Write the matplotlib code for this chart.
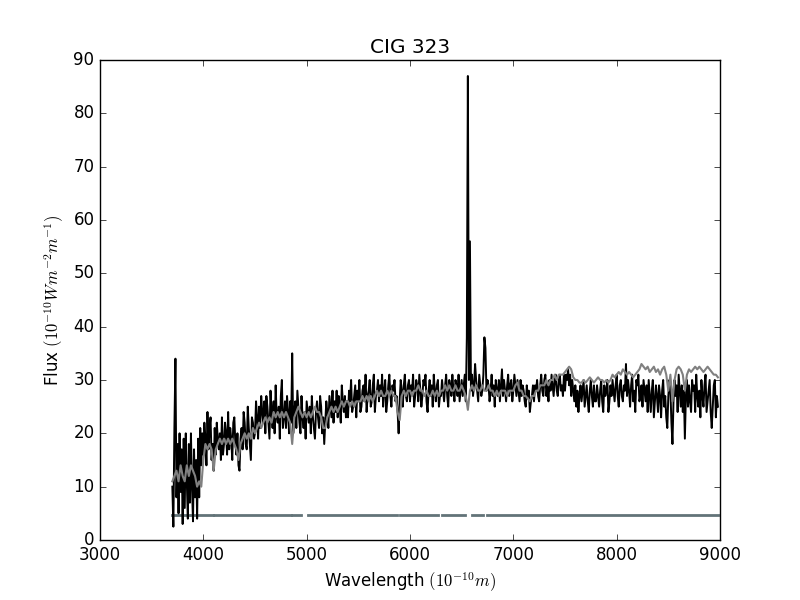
import numpy as np
import matplotlib
matplotlib.use('Agg')
import matplotlib.pyplot as plt

# 관측 스펙트럼 (검정), 10 A 간격, 3700 A 부터
obs_start = 3700
obs_step = 10
obs_flux = [
    10, 2.5, 21, 34, 8, 18, 5, 20, 9, 17, 3, 19, 6, 20, 11, 4, 18, 7, 20, 10, 3.5, 17, 8, 15, 4, 19, 8, 21, 14, 20,
    16, 22, 19, 14, 24, 17, 21, 23, 15, 18, 13, 21, 16, 22, 19, 17, 20, 15, 23, 16,
    18, 22, 20, 16, 24, 17, 21, 19, 15, 22, 23, 18, 16, 20, 14, 13, 19, 21, 17, 24, 22, 18, 17, 25, 21, 18, 15, 23, 22, 19,
    20, 26, 23, 19, 25, 21, 27, 24, 22, 26, 20, 27, 25, 22, 19, 28, 24, 21, 26, 20, 29, 23, 22, 25, 19, 27, 30, 21, 23, 26,
    21, 27, 24, 20, 26, 22, 35, 20, 24, 26, 21, 28, 25, 22, 20, 27, 23, 21, 24, 19, 26, 24, 22, 25, 20, 27, 23, 21, 19, 24,
    26, 23, 21, 27, 25, 20, 23, 18, 22, 26, 24, 21, 27, 25, 23, 28, 22, 26, 24, 28, 23, 27, 25, 22, 29, 26, 24, 27, 23, 26,
    23, 28, 26, 30, 24, 25, 27, 29, 23, 28, 26, 30, 24, 25, 28, 29, 26, 31, 24, 27, 28, 30, 25, 26, 29, 31, 24, 27, 28, 30,
    26, 29, 27, 31, 25, 28, 30, 24, 26, 29, 31, 27, 25, 29, 28, 30, 26, 27, 24, 20, 26, 30, 28, 25, 29, 31, 27, 26, 29, 30,
    26, 29, 28, 31, 25, 27, 30, 29, 26, 31, 28, 25, 27, 30, 29, 31, 26, 24, 28, 30, 27, 29, 25, 31, 28, 26, 29, 30, 25, 27,
    27, 30, 28, 26, 29, 31, 27, 25, 30, 29, 27, 31, 28, 26, 30, 29, 27, 31, 26, 28, 30, 27, 29, 31, 26, 38, 87, 30, 56, 28,
    31, 27, 29, 33, 30, 28, 26, 31, 29, 27, 28, 31, 38, 36, 28, 30, 29, 26, 28, 31, 27, 29, 25, 30, 28, 27, 30, 26, 29, 32,
    27, 30, 28, 26, 29, 31, 27, 29, 30, 26, 28, 31, 29, 27, 30, 28, 26, 30, 27, 29, 28, 26, 25, 29, 27, 28, 24, 26, 27, 29,
    26, 29, 28, 30, 27, 26, 29, 31, 28, 27, 30, 31, 27, 29, 26, 30, 28, 31, 29, 27, 30, 31, 28, 27, 30, 31, 28, 29, 27, 31,
    28, 31, 30, 32, 29, 31, 27, 30, 28, 26, 29, 25, 28, 24, 27, 29, 26, 28, 30, 25, 27, 29, 26, 24, 28, 30, 27, 25, 29, 26,
    26, 29, 27, 25, 28, 30, 26, 24, 29, 27, 28, 30, 24, 26, 29, 27, 30, 28, 26, 29, 31, 27, 25, 29, 30, 27, 26, 29, 28, 33,
    27, 30, 28, 25, 29, 31, 26, 28, 24, 30, 29, 31, 26, 27, 29, 25, 30, 28, 26, 29, 24, 30, 27, 24, 28, 30, 23, 26, 29, 27,
    24, 29, 27, 23, 28, 30, 25, 27, 23, 21, 27, 30, 28, 22, 18, 26, 30, 27, 29, 24, 31, 28, 25, 29, 24, 28, 19, 27, 30, 25,
    29, 26, 24, 30, 28, 29, 24, 31, 27, 25, 28, 23, 30, 27, 25, 29, 31, 24, 26, 28, 30, 24, 21, 25, 29, 30, 23, 27, 25,
]

# 모델 스펙트럼 (회색), 20 A 간격
fit_start = 3700
fit_step = 20
fit_flux = [
    11, 12, 13, 11, 14, 12, 11, 14, 12, 14, 13, 12, 10, 11, 10,
    15, 18, 17, 18, 17, 13, 17, 18, 19, 18, 19, 18, 19, 18, 19,
    18, 17, 15, 18, 19, 20, 19, 20, 19, 21, 20, 21, 22, 21, 22,
    23, 22, 23, 22, 24, 23, 24, 23, 24, 23, 24, 23, 22, 18, 23,
    24, 25, 24, 23, 24, 23, 24, 23, 24, 25, 24, 24, 23, 21, 21,
    23, 24, 25, 24, 25, 24, 25, 26, 25, 26, 26, 25, 26, 25, 26,
    26, 26, 27, 26, 27, 26, 27, 26, 27, 28, 27, 28, 27, 27, 28,
    27, 28, 27, 27, 24, 22.5, 27, 28, 27, 28, 28, 27, 28, 28, 29,
    28, 28, 27, 28, 27, 27, 28, 27, 28, 27, 28, 28, 29, 28, 29,
    28, 28, 29, 28, 28, 29, 28, 27, 24.4, 28, 29, 28, 29, 28, 28,
    29, 28, 28, 29, 28, 28, 27, 28, 27, 28, 28, 28, 27, 28, 28,
    28, 29, 29.5, 28, 28, 27, 27, 26.5, 26, 27, 27, 28, 28, 29, 29,
    29, 30, 29, 30, 30, 31, 30, 31, 31, 31, 31.5, 32, 32.5, 32, 30.5,
    30, 30, 29.5, 29.5, 30, 29.5, 30, 30.5, 30, 29.5, 30, 30.5, 30, 30, 29.5,
    30, 29.5, 30, 31, 30.5, 31, 31.5, 31, 32, 31.5, 31, 31.5, 31, 30.5, 31,
    31.5, 32, 33, 32.5, 32, 32.5, 31.5, 32, 32.5, 31.5, 32, 31, 32, 32.5, 31,
    28, 31, 26, 30, 32, 32.5, 32, 31, 28, 31, 32, 31.5, 32, 32.5, 32,
    32.5, 32, 31.5, 32, 32.5, 32, 31.5, 31, 31, 30.5,
]

# 마스크 구간 (시작, 끝 파장)
mask_start = [3700, 3880, 4105, 4860, 5015, 5903, 6306, 6596, 6742]
mask_end = [3860, 4090, 4852, 4945, 5871, 6271, 6532, 6703, 8984]
mask_level = 4.7

obs_wave = obs_start + obs_step * np.arange(len(obs_flux))
fit_wave = fit_start + fit_step * np.arange(len(fit_flux))

plt.style.use('classic')
fig = plt.figure(figsize=(8, 6), dpi=100)
ax = fig.add_axes([0.125, 0.1, 0.775, 0.8])

for s, e in zip(mask_start, mask_end):
    ax.plot([s, e], [mask_level, mask_level], color='#627378', lw=2)

ax.plot(obs_wave, obs_flux, color='black', lw=1.4)
ax.plot(fit_wave, fit_flux, color='gray', lw=1.5)

ax.set_xlim(3000, 9000)
ax.set_ylim(0, 90)
ax.set_title('CIG 323')
ax.set_xlabel(r'Wavelength $(10^{-10} m)$')
ax.set_ylabel(r'Flux $(10^{-10} Wm^{-2}m^{-1})$')

fig.savefig('out.png', dpi=100)
